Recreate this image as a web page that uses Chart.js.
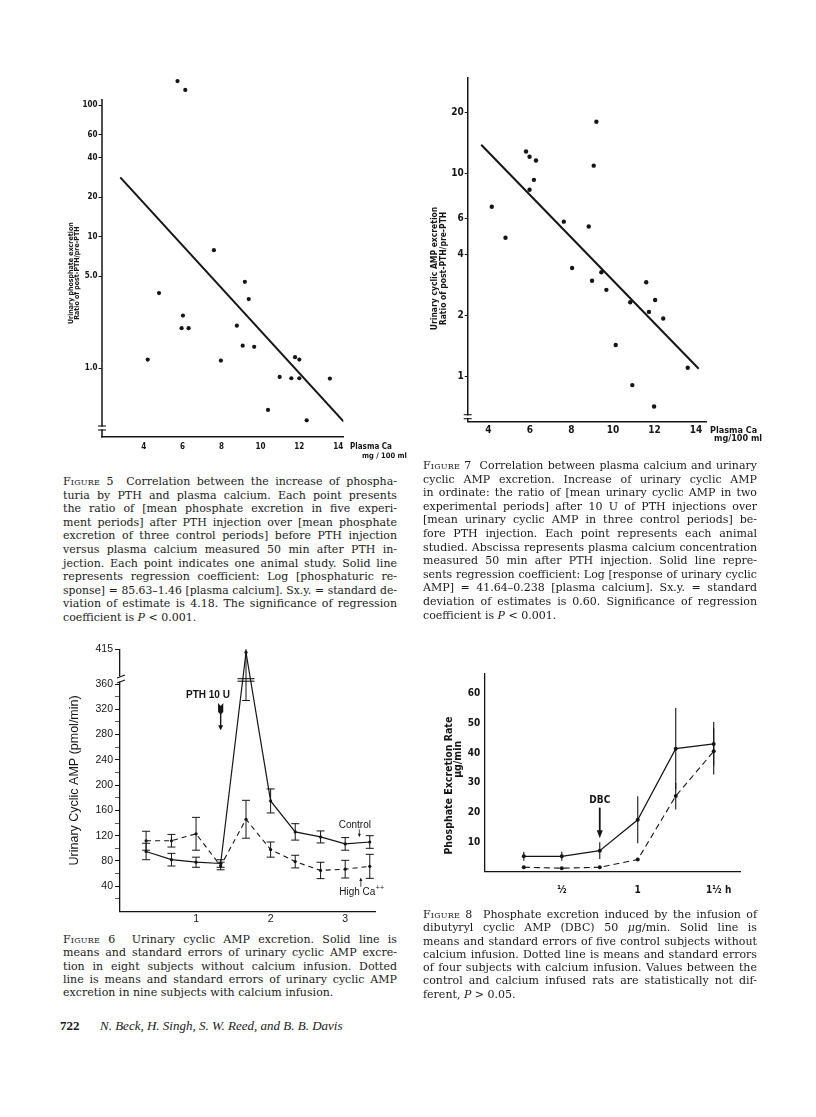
<!DOCTYPE html>
<html><head><meta charset="utf-8">
<script src="https://cdn.jsdelivr.net/npm/chart.js@4.4.1/dist/chart.umd.min.js"></script>
<style>
html,body{margin:0;padding:0;background:#fff;}
body{width:816px;height:1117px;position:relative;overflow:hidden;color:#1a1a1a;}
canvas{position:absolute;}
.cap{position:absolute;width:334px;font-family:'DejaVu Serif','Liberation Serif',serif;font-size:11.1px;}
.cap div{height:13.6px;line-height:13.6px;text-align:justify;text-align-last:justify;}
.cap.s div{height:13.3px;line-height:13.3px;}
.cap div.last{text-align-last:left;}
.sc{font-variant:small-caps;letter-spacing:0.2px;}
.foot{position:absolute;top:1018px;left:60px;font-family:'Liberation Serif','Times New Roman',serif;font-size:13px;white-space:nowrap;}
.foot b{display:inline-block;width:40px;}
</style></head><body>
<canvas id="c5" width="400" height="400" style="left:20px;top:60px"></canvas>
<canvas id="c7" width="400" height="400" style="left:400px;top:60px"></canvas>
<canvas id="c6" width="360" height="300" style="left:40px;top:630px"></canvas>
<canvas id="c8" width="380" height="260" style="left:420px;top:650px"></canvas>

<div class="cap" style="left:63px;top:475px">
<div><span class="sc">Figure</span> 5&nbsp; Correlation between the increase of phospha-</div>
<div>turia by PTH and plasma calcium. Each point presents</div>
<div>the ratio of [mean phosphate excretion in five experi-</div>
<div>ment periods] after PTH injection over [mean phosphate</div>
<div>excretion of three control periods] before PTH injection</div>
<div>versus plasma calcium measured 50 min after PTH in-</div>
<div>jection. Each point indicates one animal study. Solid line</div>
<div>represents regression coefficient: Log [phosphaturic re-</div>
<div>sponse] = 85.63–1.46 [plasma calcium]. Sx.y. = standard de-</div>
<div>viation of estimate is 4.18. The significance of regression</div>
<div class="last">coefficient is <i>P</i> &lt; 0.001.</div>
</div>

<div class="cap" style="left:423px;top:459px">
<div><span class="sc">Figure</span> 7&nbsp; Correlation between plasma calcium and urinary</div>
<div>cyclic AMP excretion. Increase of urinary cyclic AMP</div>
<div>in ordinate: the ratio of [mean urinary cyclic AMP in two</div>
<div>experimental periods] after 10 U of PTH injections over</div>
<div>[mean urinary cyclic AMP in three control periods] be-</div>
<div>fore PTH injection. Each point represents each animal</div>
<div>studied. Abscissa represents plasma calcium concentration</div>
<div>measured 50 min after PTH injection. Solid line repre-</div>
<div>sents regression coefficient: Log [response of urinary cyclic</div>
<div>AMP] = 41.64–0.238 [plasma calcium]. Sx.y. = standard</div>
<div>deviation of estimates is 0.60. Significance of regression</div>
<div class="last">coefficient is <i>P</i> &lt; 0.001.</div>
</div>

<div class="cap s" style="left:63px;top:933px">
<div><span class="sc">Figure</span> 6&nbsp; Urinary cyclic AMP excretion. Solid line is</div>
<div>means and standard errors of urinary cyclic AMP excre-</div>
<div>tion in eight subjects without calcium infusion. Dotted</div>
<div>line is means and standard errors of urinary cyclic AMP</div>
<div class="last">excretion in nine subjects with calcium infusion.</div>
</div>

<div class="cap s" style="left:423px;top:908px">
<div><span class="sc">Figure</span> 8&nbsp; Phosphate excretion induced by the infusion of</div>
<div>dibutyryl cyclic AMP (DBC) 50 <i>μ</i>g/min. Solid line is</div>
<div>means and standard errors of five control subjects without</div>
<div>calcium infusion. Dotted line is means and standard errors</div>
<div>of four subjects with calcium infusion. Values between the</div>
<div>control and calcium infused rats are statistically not dif-</div>
<div class="last">ferent, <i>P</i> &gt; 0.05.</div>
</div>

<div class="foot"><b>722</b><i>N. Beck, H. Singh, S. W. Reed, and B. B. Davis</i></div>

<script>
// shrink any caption line that would not fit on one line
document.querySelectorAll('.cap div').forEach(d => {
  const size = parseFloat(getComputedStyle(d).fontSize);
  d.style.whiteSpace = 'nowrap'; d.style.textAlign = 'left'; d.style.textAlignLast = 'left';
  const w = d.scrollWidth;
  if (w > 333) d.style.fontSize = (size * 332 / w).toFixed(2) + 'px';
  d.style.whiteSpace = ''; d.style.textAlign = ''; d.style.textAlignLast = '';
});

// ---------------- Figure 5 data ----------------
const fig5Calcium = [5.74, 6.14, 7.61, 9.2, 4.79, 9.40, 6.02, 5.95, 6.31, 8.79, 9.09, 9.68, 4.21, 7.97, 11.78, 12.0, 10.99, 11.59, 12.0, 13.57, 10.39, 12.38];
const fig5Ratio   = [153, 131, 7.9, 4.53, 3.72, 3.35, 2.51, 2.01, 2.01, 2.10, 1.48, 1.45, 1.16, 1.14, 1.21, 1.16, 0.855, 0.836, 0.836, 0.831, 0.48, 0.40];
const fig5RegCalcium = [2.8, 14.29];
const fig5RegRatio   = [28.3, 0.39];
const fig5YTicks  = [1, 5, 10, 20, 40, 60, 100];
const fig5YLabels = ['1.0', '5.0', '10', '20', '40', '60', '100'];
const fig5XTicks  = [4, 6, 8, 10, 12, 14];
const fig5AxisTop = 111.6;

// ---------------- Figure 7 data ----------------
const fig7Calcium = [9.2, 5.81, 5.98, 6.29, 9.07, 6.19, 5.98, 4.16, 7.63, 8.83, 4.82, 8.03, 9.44, 8.99, 11.6, 9.68, 10.83, 12.03, 11.73, 12.42, 10.13, 13.6, 10.93, 11.98];
const fig7Ratio   = [17.9, 12.8, 12.05, 11.56, 10.9, 9.28, 8.3, 6.84, 5.78, 5.47, 4.82, 3.42, 3.26, 2.96, 2.91, 2.67, 2.32, 2.38, 2.08, 1.93, 1.43, 1.106, 0.908, 0.713];
const fig7RegCalcium = [3.65, 14.13];
const fig7RegRatio   = [13.8, 1.093];
const fig7YTicks  = [1, 2, 4, 6, 10, 20];
const fig7XTicks  = [4, 6, 8, 10, 12, 14];

// ---------------- Figure 6 data ----------------
const fig6Time      = [0.33, 0.67, 1, 1.33, 1.67, 2, 2.33, 2.67, 3, 3.33];
const fig6Control   = [95, 82, 78, 76, 410, 175, 126, 118, 107, 110];
const fig6ControlSE = [13, 10, 8, 6, 76, 19, 13, 9.5, 10, 10];
const fig6HighCa    = [112, 112, 123, 72, 146, 98, 79, 65, 67, 71.5];
const fig6HighCaSE  = [15, 10, 26, 6, 30, 12, 10, 13, 14, 19];
const fig6YTicks    = [20, 40, 60, 80, 100, 120, 140, 160, 180, 200, 220, 240, 260, 280, 300, 320, 340, 360, 415];
const fig6XTicks    = [1, 2, 3];

// ---------------- Figure 8 data ----------------
const fig8Time      = [0.25, 0.5, 0.75, 1, 1.25, 1.5];
const fig8Control   = [5.2, 5.2, 7.1, 17.5, 41.5, 43.1];
const fig8ControlSE = [1.5, 1.5, 2.8, 7.9, 13.7, 7.4];
const fig8Calcium   = [1.5, 1.2, 1.5, 4.1, 25.5, 40.6];
const fig8CalciumSE = [0, 0, 0, 0, 4.5, 7.8];
const fig8XTicks    = [0.5, 1, 1.5];
const fig8XLabels   = ['½', '1', '1½'];
const fig8YTicks    = [10, 20, 30, 40, 50, 60];

// ---------------- helpers ----------------
const INK = '#151515';
const NARROW = "'Liberation Sans Narrow','Arial Narrow','DejaVu Sans Condensed',sans-serif";
const SANS = "'Liberation Sans',Arial,Helvetica,sans-serif";

Chart.defaults.animation = false;
Chart.defaults.responsive = false;
Chart.defaults.devicePixelRatio = 1;
Chart.defaults.color = INK;
Chart.defaults.events = [];
Chart.defaults.plugins.legend.display = false;
Chart.defaults.plugins.tooltip.enabled = false;

const pts = (xs, ys) => xs.map((x, i) => ({x, y: ys[i]}));
const fixW = w => s => { s.width = w; };
const fixH = h => s => { s.height = h; };
const setTicks = vals => s => { s.ticks = vals.map(v => ({value: v})); };
const font = (size, weight, family, lh) => ({size, weight: weight || 'normal', family: family || NARROW, lineHeight: lh || 1.2});
const pad = n => ' '.repeat(n);

function txt(ctx, s, x, y, f, align) {
  ctx.save();
  ctx.font = f; ctx.fillStyle = INK; ctx.textAlign = align || 'center'; ctx.textBaseline = 'middle';
  ctx.fillText(s, x, y);
  ctx.restore();
}
function seg(ctx, x1, y1, x2, y2, lw) {
  ctx.save(); ctx.strokeStyle = INK; ctx.lineWidth = lw || 1;
  ctx.beginPath(); ctx.moveTo(x1, y1); ctx.lineTo(x2, y2); ctx.stroke(); ctx.restore();
}
function vArrow(ctx, x, yFrom, yTo, lw, hw, hl) {
  const d = Math.sign(yTo - yFrom);
  seg(ctx, x, yFrom, x, yTo - d * hl * 0.6, lw);
  ctx.save(); ctx.fillStyle = INK; ctx.beginPath();
  ctx.moveTo(x - hw / 2, yTo - d * hl); ctx.lineTo(x + hw / 2, yTo - d * hl); ctx.lineTo(x, yTo);
  ctx.closePath(); ctx.fill(); ctx.restore();
}
function axisBreakH(ctx, x, y1, y2) {
  ctx.save(); ctx.fillStyle = '#fff'; ctx.fillRect(x - 2, y1 + 0.8, 4, y2 - y1 - 1.6); ctx.restore();
  seg(ctx, x - 4, y1, x + 4, y1, 1.1);
  seg(ctx, x - 4, y2, x + 4, y2, 1.1);
}

const errorBars = {
  id: 'errorBars',
  afterDatasetsDraw(chart) {
    const {ctx, chartArea: a} = chart;
    const ys = chart.scales.y;
    ctx.save();
    ctx.beginPath(); ctx.rect(a.left, a.top, a.right - a.left, a.bottom - a.top); ctx.clip();
    ctx.strokeStyle = INK;
    chart.data.datasets.forEach((ds, i) => {
      if (!ds.errors) return;
      const meta = chart.getDatasetMeta(i);
      meta.data.forEach((p, j) => {
        const e = ds.errors[j]; if (!e) return;
        const v = ds.data[j].y;
        const y1 = ys.getPixelForValue(v + e), y2 = ys.getPixelForValue(v - e);
        ctx.lineWidth = ds.errorWidth || 1;
        ctx.beginPath(); ctx.moveTo(p.x, y1); ctx.lineTo(p.x, y2);
        if (ds.capWidth) {
          const c = ds.capWidth / 2;
          ctx.moveTo(p.x - c, y1); ctx.lineTo(p.x + c, y1);
          ctx.moveTo(p.x - c, y2); ctx.lineTo(p.x + c, y2);
        }
        ctx.stroke();
      });
    });
    ctx.restore();
  }
};

// ---------------- Figure 5 ----------------
new Chart(document.getElementById('c5'), {
  type: 'scatter',
  data: { datasets: [
    { data: pts(fig5Calcium, fig5Ratio), pointRadius: 2.1, pointBackgroundColor: INK, pointBorderWidth: 0 },
    { data: pts(fig5RegCalcium, fig5RegRatio), showLine: true, borderColor: INK, borderWidth: 2, pointRadius: 0 }
  ]},
  options: {
    layout: { padding: { left: 0, top: 4.7, right: 76.7, bottom: 3.3 } },
    scales: {
      x: { type: 'linear', min: 1.86, max: 14.26, afterFit: fixH(20), afterBuildTicks: setTicks(fig5XTicks),
           grid: { drawOnChartArea: false, drawTicks: false },
           border: { color: INK, width: 1.5 },
           ticks: { autoSkip: false, maxRotation: 0, padding: 5, font: font(8, 'bold') } },
      y: { type: 'logarithmic', min: 0.314, max: 200, afterFit: fixW(82), afterBuildTicks: setTicks(fig5YTicks),
           grid: { drawOnChartArea: false, color: INK, tickLength: 3.5, lineWidth: 1 },
           border: { display: false },
           ticks: { autoSkip: false, padding: 1, font: font(8, 'bold'), callback: (v, i) => fig5YLabels[i] },
           title: { display: true, text: ['Urinary phosphate excretion' + pad(20), 'Ratio of post-PTH/pre-PTH' + pad(20)],
                    font: font(7, 'bold', NARROW, '6.3px'), padding: { top: 48.2, bottom: 0 } } }
    }
  },
  plugins: [{ id: 'fig5extra', afterDraw(chart) {
    const {ctx, chartArea: a, scales: {y}} = chart;
    seg(ctx, a.left, y.getPixelForValue(fig5AxisTop), a.left, a.bottom + 0.7, 1.5);
    axisBreakH(ctx, a.left, a.bottom - 10.7, a.bottom - 6.7);
    txt(ctx, 'Plasma Ca', a.right + 6.7, a.bottom + 10.3, 'bold 8px ' + NARROW, 'left');
    txt(ctx, 'mg / 100 ml', a.right + 18.7, a.bottom + 19, 'bold 7.5px ' + NARROW, 'left');
  }}]
});

// ---------------- Figure 7 ----------------
new Chart(document.getElementById('c7'), {
  type: 'scatter',
  data: { datasets: [
    { data: pts(fig7Calcium, fig7Ratio), pointRadius: 2.2, pointBackgroundColor: INK, pointBorderWidth: 0 },
    { data: pts(fig7RegCalcium, fig7RegRatio), showLine: true, borderColor: INK, borderWidth: 2, pointRadius: 0 }
  ]},
  options: {
    layout: { padding: { left: 0, top: 18, right: 94, bottom: 18.3 } },
    scales: {
      x: { type: 'linear', min: 3.0, max: 14.48, afterFit: fixH(20), afterBuildTicks: setTicks(fig7XTicks),
           grid: { drawOnChartArea: false, drawTicks: false },
           border: { color: INK, width: 1.5 },
           ticks: { autoSkip: false, maxRotation: 0, padding: 3, font: font(10, 'bold') } },
      y: { type: 'logarithmic', min: 0.632, max: 29.4, afterFit: fixW(67.7), afterBuildTicks: setTicks(fig7YTicks),
           grid: { drawOnChartArea: false, color: INK, tickLength: 3, lineWidth: 1 },
           border: { color: INK, width: 1.5 },
           ticks: { autoSkip: false, padding: 1, font: font(10, 'bold'), callback: v => String(v) },
           title: { display: true,
                    text: ['Urinary cyclic AMP excretion' + pad(14), 'Ratio of post-PTH/pre-PTH' + pad(14)],
                    font: font(8.5, 'bold', NARROW, '8.6px'), padding: { top: 30.4, bottom: 0 } } }
    }
  },
  plugins: [{ id: 'fig7extra', afterDraw(chart) {
    const {ctx, chartArea: a} = chart;
    axisBreakH(ctx, a.left, a.bottom - 7, a.bottom - 3);
    txt(ctx, 'Plasma Ca', a.right + 4, a.bottom + 9, 'bold 9px ' + NARROW, 'left');
    txt(ctx, 'mg/100 ml', a.right + 8, a.bottom + 17.3, 'bold 9px ' + NARROW, 'left');
  }}]
});

// ---------------- Figure 6 ----------------
new Chart(document.getElementById('c6'), {
  type: 'scatter',
  data: { datasets: [
    { data: pts(fig6Time, fig6Control), errors: fig6ControlSE, capWidth: 8, errorWidth: 1,
      showLine: true, borderColor: INK, borderWidth: 1.2, pointRadius: 1.6, pointBackgroundColor: INK, pointBorderWidth: 0 },
    { data: pts(fig6Time, fig6HighCa), errors: fig6HighCaSE, capWidth: 8, errorWidth: 1,
      showLine: true, borderColor: INK, borderWidth: 1.1, borderDash: [5, 4], pointRadius: 1.6, pointBackgroundColor: INK, pointBorderWidth: 0 }
  ]},
  options: {
    layout: { padding: { left: 0, top: 19.3, right: 25, bottom: 0.5 } },
    scales: {
      x: { type: 'linear', min: -0.02, max: 3.4, afterFit: fixH(18), afterBuildTicks: setTicks(fig6XTicks),
           grid: { drawOnChartArea: false, drawTicks: false },
           border: { color: INK, width: 1.3 },
           ticks: { autoSkip: false, maxRotation: 0, padding: 1.5, font: font(10.5, 'normal', SANS) } },
      y: { type: 'linear', min: 0, max: 415, afterFit: fixW(80), afterBuildTicks: setTicks(fig6YTicks),
           grid: { drawOnChartArea: false, color: INK, tickLength: 5, lineWidth: c => (c.tick && (c.tick.value % 40 === 0 || c.tick.value === 415)) ? 1 : 0.7 },
           border: { color: INK, width: 1.3 },
           ticks: { autoSkip: false, padding: 2, font: font(10.5, 'normal', SANS),
                    callback: v => (v % 40 === 0 || v === 415) ? String(v) : '' },
           title: { display: true, text: 'Urinary Cyclic AMP (pmol/min)', font: font(12.5, 'normal', SANS, '15px'),
                    padding: { top: 27.5, bottom: 0 } } }
    }
  },
  plugins: [errorBars, { id: 'fig6extra', afterDraw(chart) {
    const {ctx, chartArea: a, scales: {x, y}} = chart;
    const b1 = y.getPixelForValue(372), b2 = y.getPixelForValue(364);
    ctx.save(); ctx.fillStyle = '#fff'; ctx.fillRect(a.left - 2, b1, 4, b2 - b1); ctx.restore();
    seg(ctx, a.left - 3, b1 + 1.5, a.left + 5, b1 - 1.5, 1.1);
    seg(ctx, a.left - 3, b2 + 1.5, a.left + 5, b2 - 1.5, 1.1);
    const px = x.getPixelForValue(fig6Time[4]);
    [368.5, 364.5].forEach(v => { const yy = y.getPixelForValue(v); seg(ctx, px - 8.5, yy, px + 8.5, yy, 1.1); });
    txt(ctx, 'PTH 10 U', x.getPixelForValue(1.16), y.getPixelForValue(342.5), 'bold 10px ' + SANS, 'center');
    const ax = x.getPixelForValue(fig6Time[3]);
    const t = y.getPixelForValue(330);
    ctx.save(); ctx.fillStyle = INK; ctx.beginPath();
    ctx.moveTo(ax - 2.6, t); ctx.lineTo(ax, t + 3); ctx.lineTo(ax + 2.6, t); ctx.lineTo(ax + 2.6, t + 9);
    ctx.lineTo(ax, t + 11.5); ctx.lineTo(ax - 2.6, t + 9); ctx.closePath(); ctx.fill(); ctx.restore();
    vArrow(ctx, ax, t + 10, y.getPixelForValue(287), 1.4, 5, 5);
    txt(ctx, 'Control', x.getPixelForValue(3.13), y.getPixelForValue(137), '10px ' + SANS, 'center');
    vArrow(ctx, x.getPixelForValue(3.19), y.getPixelForValue(130), y.getPixelForValue(117.5), 0.8, 3, 3.5);
    txt(ctx, 'High Ca', x.getPixelForValue(2.92), y.getPixelForValue(31), '10px ' + SANS, 'left');
    ctx.save(); ctx.font = '10px ' + SANS; const w = ctx.measureText('High Ca').width; ctx.restore();
    txt(ctx, '++', x.getPixelForValue(2.92) + w + 0.5, y.getPixelForValue(31) - 4, '7px ' + SANS, 'left');
    vArrow(ctx, x.getPixelForValue(3.21), y.getPixelForValue(39), y.getPixelForValue(54), 0.8, 3, 3.5);
  }}]
});

// ---------------- Figure 8 ----------------
new Chart(document.getElementById('c8'), {
  type: 'scatter',
  data: { datasets: [
    { data: pts(fig8Time, fig8Control), errors: fig8ControlSE, capWidth: 0, errorWidth: 1.1,
      showLine: true, borderColor: INK, borderWidth: 1.2, pointRadius: 2, pointBackgroundColor: INK, pointBorderWidth: 0 },
    { data: pts(fig8Time, fig8Calcium), errors: fig8CalciumSE, capWidth: 0, errorWidth: 1.1,
      showLine: true, borderColor: INK, borderWidth: 1.1, borderDash: [6, 4], pointRadius: 2, pointBackgroundColor: INK, pointBorderWidth: 0 }
  ]},
  options: {
    layout: { padding: { left: 0, top: 23.3, right: 60, bottom: 8.3 } },
    scales: {
      x: { type: 'linear', min: -0.01, max: 1.673, afterFit: fixH(30), afterBuildTicks: setTicks(fig8XTicks),
           grid: { drawOnChartArea: false, drawTicks: false },
           border: { color: INK, width: 1.3 },
           ticks: { autoSkip: false, maxRotation: 0, padding: 12.5, font: font(10, 'bold'), callback: (v, i) => fig8XLabels[i] } },
      y: { type: 'linear', min: 0, max: 66.9, afterFit: fixW(64.3), afterBuildTicks: setTicks(fig8YTicks),
           grid: { drawOnChartArea: false, drawTicks: false },
           border: { color: INK, width: 1.3 },
           ticks: { autoSkip: false, padding: 4, font: font(10, 'bold') },
           title: { display: true, text: ['Phosphate Excretion Rate' + pad(8), pad(8) + 'μg/min'], font: font(10.5, 'bold', NARROW, '9.5px'),
                    padding: { top: 24.5, bottom: 0 } } }
    }
  },
  plugins: [errorBars, { id: 'fig8extra', afterDraw(chart) {
    const {ctx, chartArea: a, scales: {x, y}} = chart;
    txt(ctx, 'h', x.getPixelForValue(1.595), a.bottom + 18.5, 'bold 10px ' + NARROW, 'center');
    txt(ctx, 'DBC', x.getPixelForValue(0.75), y.getPixelForValue(23.9), 'bold 10px ' + NARROW, 'center');
    vArrow(ctx, x.getPixelForValue(0.75), y.getPixelForValue(21.6), y.getPixelForValue(11.3), 1.8, 6, 8);
  }}]
});
</script>
</body></html>
